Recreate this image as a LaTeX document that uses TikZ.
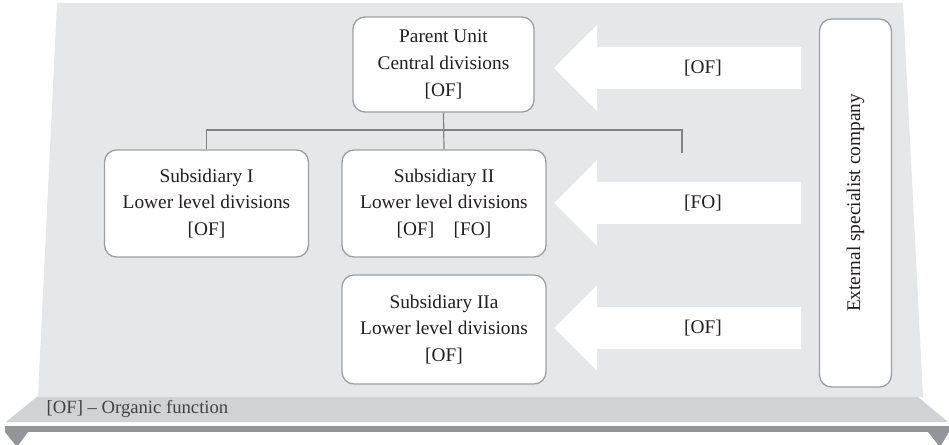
\documentclass[tikz,border=0pt]{standalone}
\usepackage{fontspec}
\setmainfont{Liberation Serif}
\usetikzlibrary{calc}
\definecolor{panel}{HTML}{E6E7E8}
\definecolor{shelf}{HTML}{D1D2D4}
\definecolor{rail}{HTML}{939598}
\definecolor{edge}{HTML}{9D9FA2}
\definecolor{treeline}{HTML}{808285}
\definecolor{ink}{HTML}{231F20}
\tikzset{
  unitbox/.style={draw=edge, line width=1pt, fill=white, rounded corners=9pt,
    align=center, text=ink, font=\fontsize{14.5}{20}\selectfont, inner sep=0pt},
  tree/.style={draw=treeline, line width=0.9pt},
  flow/.style={fill=white, draw=none},
  flowlabel/.style={text=ink, font=\fontsize{14.5}{16}\selectfont},
}
\begin{document}
\begin{tikzpicture}[x=0.75pt,y=-0.75pt]
\useasboundingbox (0,0) rectangle (949,445);

% shelf and rail under the panel
\fill[shelf] (38,396) -- (917,396) -- (948,422) -- (6,422) -- cycle;
\fill[rail] (5,426) rectangle (949,432);
\fill[rail] (5,432) -- (28,432) -- (17,447) -- cycle;
\fill[rail] (928,432) -- (949,432) -- (940,447) -- cycle;

% back panel
\fill[panel] (57,3) -- (903,3) -- (923,397) -- (38,397) -- cycle;

\node[anchor=west, text=ink!85, font=\fontsize{14}{16}\selectfont] (legend) at (42,409) {[OF] -- Organic function};

% block arrows from the external company
\foreach \cy in {68,203,328}{
  \fill[flow] (801,\cy-21) -- (597,\cy-21) -- (597,\cy-43) -- (554,\cy)
    -- (597,\cy+43) -- (597,\cy+21) -- (801,\cy+21) -- cycle;
}
\node[flowlabel] (f1) at (703,68) {[OF]};
\node[flowlabel] (f2) at (703,203) {[FO]};
\node[flowlabel] (f3) at (703,328) {[OF]};

% units
\node[unitbox, minimum width=181*0.75pt, minimum height=95*0.75pt] (parent) at (443.5,64.5)
  {Parent Unit\\Central divisions\\{[OF]}};
\node[unitbox, minimum width=204*0.75pt, minimum height=107*0.75pt] (sub1) at (206.5,203.5)
  {Subsidiary I\\Lower level divisions\\{[OF]}};
\node[unitbox, minimum width=204*0.75pt, minimum height=107*0.75pt] (sub2) at (444,203.5)
  {Subsidiary II\\Lower level divisions\\{[OF]\quad[FO]}};
\node[unitbox, minimum width=204*0.75pt, minimum height=109*0.75pt] (sub2a) at (444,329.5)
  {Subsidiary IIa\\Lower level divisions\\{[OF]}};
\node[unitbox, minimum width=72*0.75pt, minimum height=368*0.75pt] (ext) at (855.5,203) {};
\node[rotate=90, text=ink, font=\fontsize{14.5}{16}\selectfont] (extlabel) at (ext.center) {External specialist company};

% tree connectors
\coordinate (bar) at (444,130);
\coordinate (rightend) at (682,153);
\draw[tree] (parent.south) -- (sub2.north);
\draw[tree] (sub1.north) |- (bar) -| (rightend);
\end{tikzpicture}
\end{document}
